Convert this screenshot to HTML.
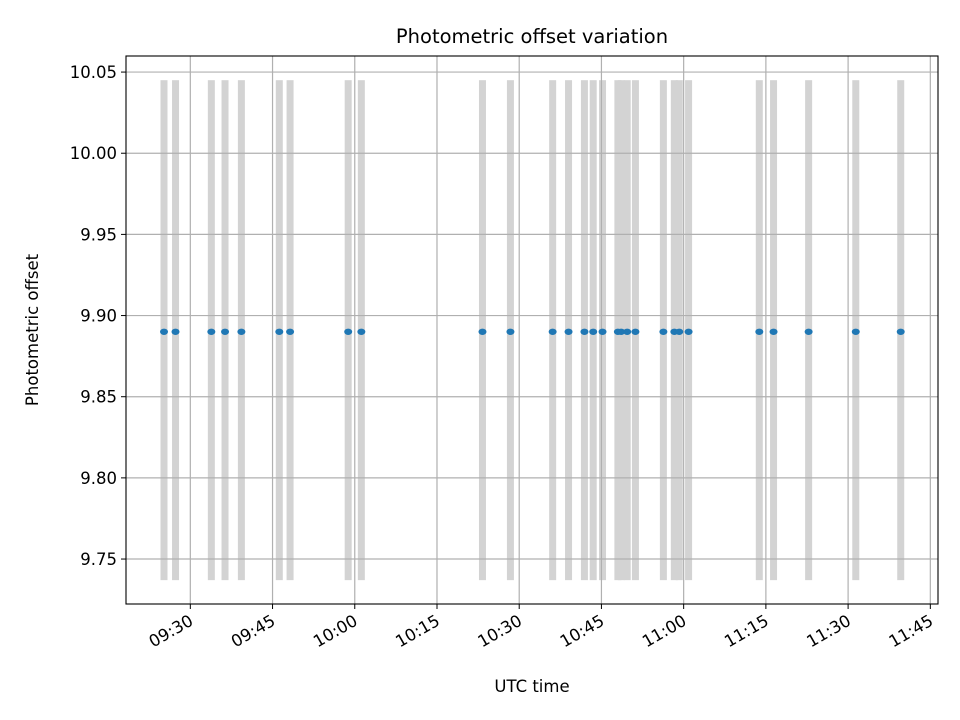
<!DOCTYPE html>
<html><head><meta charset="utf-8"><style>
body{margin:0;background:#fff}
svg{display:block;font-family:"DejaVu Sans","Liberation Sans",sans-serif}
</style></head><body>
<svg id="chart" width="960" height="720">
<rect width="960" height="720" fill="#fff"/>
<g id="bars"></g>
<g id="grid"></g>
<g id="pts"></g>
<rect x="126" y="56" width="812" height="548" fill="none" stroke="#000" stroke-width="1.1"/>
<g id="axes"></g>
<text x="532" y="43" text-anchor="middle" font-size="19.5">Photometric offset variation</text>
<text x="532" y="692" text-anchor="middle" font-size="16.5">UTC time</text>
<text x="38" y="330" text-anchor="middle" font-size="16.5" transform="rotate(-90 38 330)">Photometric offset</text>
</svg>
<script>
const times = ["09:25:12","09:27:18","09:33:50","09:36:20","09:39:19","09:46:14","09:48:12","09:58:48","10:01:12","10:23:18","10:28:24","10:36:06","10:39:00","10:41:54","10:43:30","10:45:12","10:48:00","10:48:36","10:49:42","10:51:12","10:56:18","10:58:18","10:59:12","11:00:54","11:13:48","11:16:24","11:22:48","11:31:24","11:39:36"];
const offsets = [9.89,9.89,9.89,9.89,9.89,9.89,9.89,9.89,9.89,9.89,9.89,9.89,9.89,9.89,9.89,9.89,9.89,9.89,9.89,9.89,9.89,9.89,9.89,9.89,9.89,9.89,9.89,9.89,9.89];
const yTicks = [9.75,9.80,9.85,9.90,9.95,10.00,10.05];
const xTicks = ["09:30","09:45","10:00","10:15","10:30","10:45","11:00","11:15","11:30","11:45"];
const barLow = 9.737, barHigh = 10.045;

const NS="http://www.w3.org/2000/svg";
const L=126,R=938,T=56,B=604;
function toMin(s){const p=s.split(":").map(Number);return p[0]*60+p[1]+(p[2]||0)/60;}
const xMin=toMin("09:18:16"), xMax=toMin("11:46:24");
const yMin=9.7223, yMax=10.0599;
const xs=m=>L+(m-xMin)/(xMax-xMin)*(R-L);
const ys=v=>B-(v-yMin)/(yMax-yMin)*(B-T);
function mk(tag,attrs,parent){const e=document.createElementNS(NS,tag);for(const k in attrs)e.setAttribute(k,attrs[k]);parent.appendChild(e);return e;}
const grid=document.getElementById('grid'),axes=document.getElementById('axes');
yTicks.forEach(v=>{
  const y=ys(v);
  const g=mk('line',{x1:L,x2:R,y1:y,y2:y,stroke:'#b0b0b0','stroke-width':1.2},grid);
  
  
  const t=mk('line',{x1:L-5,x2:L,y1:y,y2:y,stroke:'#000'},axes);
  
  
  const tx=mk('text',{x:L-9,y:y+6,'text-anchor':'end','font-size':16.5},axes);
  tx.textContent=v.toFixed(2);
  
  
});
xTicks.forEach(s=>{
  const x=xs(toMin(s));
  const g=mk('line',{x1:x,x2:x,y1:T,y2:B,stroke:'#b0b0b0','stroke-width':1.2},grid);
  
  
  const t=mk('line',{x1:x,x2:x,y1:B,y2:B+5,stroke:'#000'},axes);
  
  
  const tx=mk('text',{x:x+4,y:B+20,'text-anchor':'end','font-size':16.5,transform:`rotate(-30 ${x+4} ${B+20})`},axes);
  tx.textContent=s;
  
  
});
const bars=document.getElementById('bars'),pts=document.getElementById('pts');
times.forEach((s,i)=>{
  const x=xs(toMin(s));
  const b=mk('rect',{x:x-3.5,y:ys(barHigh),width:7,height:ys(barLow)-ys(barHigh),fill:'#d3d3d3'},bars);
  
  
});
times.forEach((s,i)=>{
  const c=mk('ellipse',{cx:xs(toMin(s)),cy:ys(offsets[i]),rx:4,ry:3.2,fill:'#1f77b4'},pts);
  
  
});
</script>
</body></html>
